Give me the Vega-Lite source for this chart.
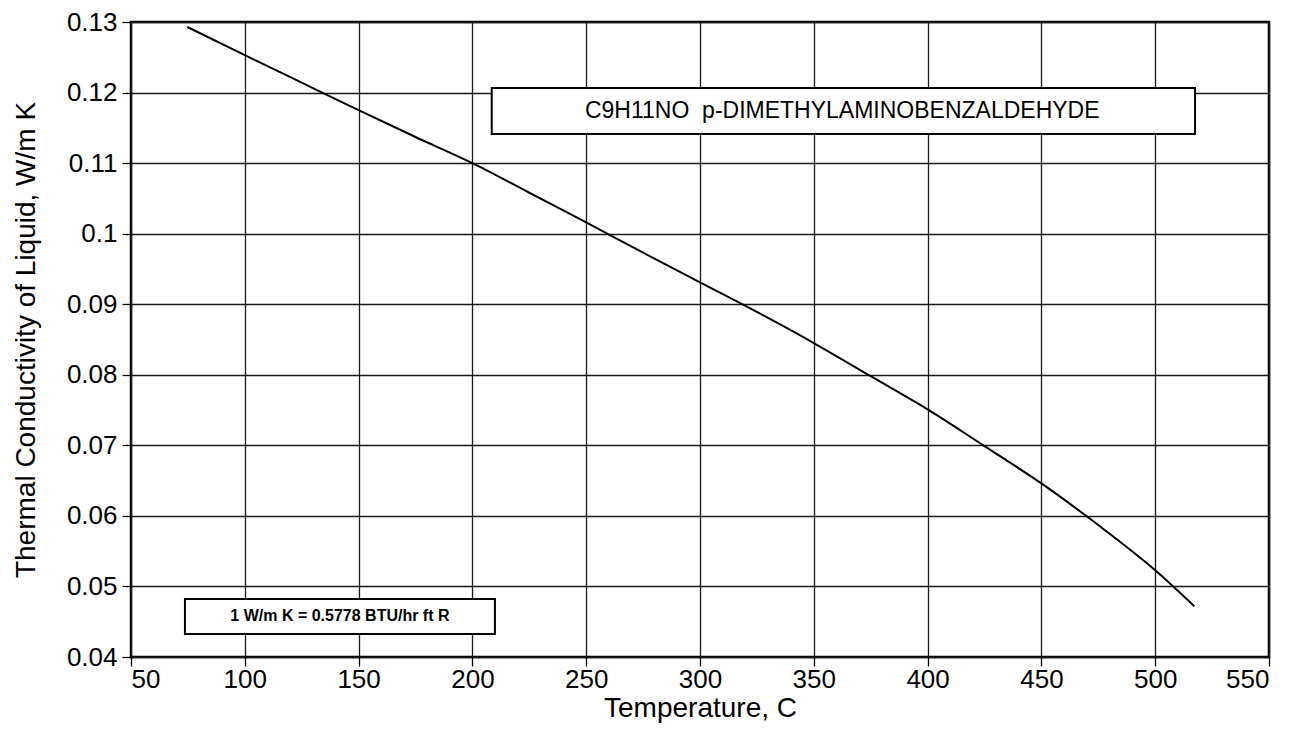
{
  "$schema": "https://vega.github.io/schema/vega-lite/v6.json",
  "autosize": "none",
  "width": 1138,
  "height": 635,
  "padding": {"left": 131, "top": 22, "right": 30, "bottom": 77},
  "background": "white",
  "config": {
    "view": {"stroke": "black", "strokeWidth": 2.5},
    "font": "Liberation Sans",
    "axis": {
      "grid": true,
      "gridColor": "#1a1a1a",
      "gridWidth": 1.3,
      "domain": false,
      "tickColor": "black",
      "tickSize": 9,
      "tickWidth": 1.3,
      "labelFont": "Liberation Sans",
      "labelFontSize": 26,
      "labelColor": "black",
      "titleFont": "Liberation Sans",
      "titleFontSize": 28,
      "titleFontWeight": "normal",
      "titleColor": "black"
    }
  },
  "datasets": {
    "curve": [
      {"t": 74.7, "k": 0.1293},
      {"t": 100, "k": 0.1253},
      {"t": 125, "k": 0.1214},
      {"t": 150, "k": 0.1175},
      {"t": 175, "k": 0.1137},
      {"t": 200, "k": 0.11},
      {"t": 225, "k": 0.1058},
      {"t": 250, "k": 0.1016},
      {"t": 275, "k": 0.0973},
      {"t": 300, "k": 0.0931},
      {"t": 325, "k": 0.0889},
      {"t": 350, "k": 0.0845},
      {"t": 375, "k": 0.0798},
      {"t": 400, "k": 0.0751},
      {"t": 425, "k": 0.0699},
      {"t": 450, "k": 0.0646},
      {"t": 475, "k": 0.0587},
      {"t": 500, "k": 0.0523},
      {"t": 517.2, "k": 0.0472}
    ],
    "boxes": [
      {"x1": 208.5, "x2": 517.5, "y1": 0.12065, "y2": 0.11413},
      {"x1": 73.7, "x2": 209.9, "y1": 0.04823, "y2": 0.04327}
    ],
    "title": [
      {"xc": 362.5, "yc": 0.11739, "label": "C9H11NO\u00a0\u00a0p-DIMETHYLAMINOBENZALDEHYDE"}
    ],
    "note": [
      {"xc": 141.8, "yc": 0.04575, "label": "1 W/m K = 0.5778 BTU/hr ft R"}
    ]
  },
  "layer": [
    {
      "data": {"name": "curve"},
      "mark": {"type": "line", "color": "black", "strokeWidth": 2, "interpolate": "monotone", "clip": true},
      "encoding": {
        "x": {
          "field": "t", "type": "quantitative",
          "scale": {"domain": [50, 550], "nice": false, "zero": false},
          "axis": {"values": [50, 100, 150, 200, 250, 300, 350, 400, 450, 500, 550], "title": "Temperature, C", "titlePadding": 2, "labelPadding": 0}
        },
        "y": {
          "field": "k", "type": "quantitative",
          "scale": {"domain": [0.04, 0.13], "nice": false, "zero": false},
          "axis": {"values": [0.04, 0.05, 0.06, 0.07, 0.08, 0.09, 0.1, 0.11, 0.12, 0.13], "format": "~g", "title": "Thermal Conductivity of Liquid, W/m K", "titlePadding": 26, "labelPadding": 5}
        }
      }
    },
    {
      "data": {"name": "boxes"},
      "mark": {"type": "rect", "fill": "white", "stroke": "black", "strokeWidth": 2},
      "encoding": {
        "x": {"field": "x1", "type": "quantitative"},
        "x2": {"field": "x2"},
        "y": {"field": "y1", "type": "quantitative"},
        "y2": {"field": "y2"}
      }
    },
    {
      "data": {"name": "title"},
      "mark": {"type": "text", "color": "black", "font": "Liberation Sans", "fontSize": 23, "align": "center", "baseline": "middle"},
      "encoding": {
        "x": {"field": "xc", "type": "quantitative"},
        "y": {"field": "yc", "type": "quantitative"},
        "text": {"field": "label"}
      }
    },
    {
      "data": {"name": "note"},
      "mark": {"type": "text", "color": "black", "font": "Liberation Sans", "fontSize": 16, "fontWeight": "bold", "align": "center", "baseline": "middle"},
      "encoding": {
        "x": {"field": "xc", "type": "quantitative"},
        "y": {"field": "yc", "type": "quantitative"},
        "text": {"field": "label"}
      }
    }
  ]
}
